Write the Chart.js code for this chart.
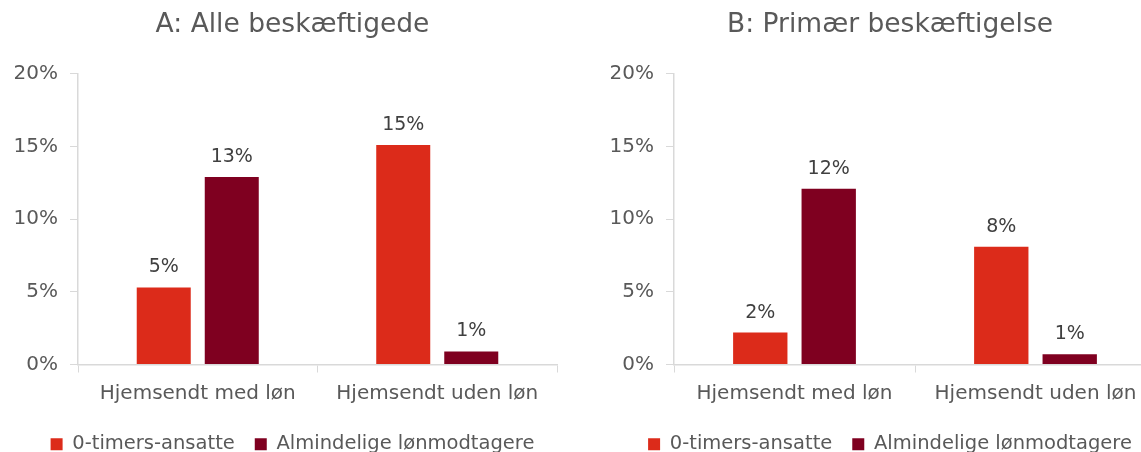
<!DOCTYPE html>
<html>
<head>
<meta charset="utf-8">
<script src="https://cdn.jsdelivr.net/npm/chart.js@4/dist/chart.umd.min.js"></script>
<style>
  html, body { margin: 0; padding: 0; background: #fff; overflow: hidden; }
  body { width: 1141px; height: 452px; position: relative; }
  .panel { position: absolute; top: 0; }
  #panel-a { left: 0; }
  #panel-b { left: 590px; }
</style>
</head>
<body>
<div class="panel" id="panel-a"><canvas id="chart-a" width="585" height="464"></canvas></div>
<div class="panel" id="panel-b"><canvas id="chart-b" width="600" height="464"></canvas></div>
<script>
(function(){

  const categories = ['Hjemsendt med løn', 'Hjemsendt uden løn'];
  const seriesNames = ['0-timers-ansatte', 'Almindelige lønmodtagere'];
  const yTicks = [0, 5, 10, 15, 20];

  // A: Alle beskæftigede
  const allZeroHours = [5.3, 15.1];
  const allRegular = [12.9, 0.9];
  // B: Primær beskæftigelse
  const primaryZeroHours = [2.2, 8.1];
  const primaryRegular = [12.1, 0.7];

  const RED = '#dc2b1a';
  const DARK = '#7f0020';
  const TEXT = '#595959';
  const AXIS = '#d9d9d9';
  const FONT = "'DejaVu Sans', sans-serif";

  // draws rounded percentage above every bar
  const barLabels = {
    id: 'barLabels',
    afterDatasetsDraw(chart) {
      const ctx = chart.ctx;
      ctx.save();
      ctx.font = `19px ${FONT}`;
      ctx.fillStyle = '#404040';
      ctx.textAlign = 'center';
      ctx.textBaseline = 'alphabetic';
      chart.data.datasets.forEach((ds, i) => {
        chart.getDatasetMeta(i).data.forEach((bar, j) => {
          ctx.fillText(Math.round(ds.data[j]) + '%', bar.x, bar.y - 15);
        });
      });
      ctx.restore();
    }
  };

  function makeChart(canvasId, title, zeroHours, regular, leftWidth, rightWidth) {
    const ctx = document.querySelector(canvasId).getContext('2d');
    return new Chart(ctx, {
      type: 'bar',
      data: {
        labels: categories,
        datasets: [
          { label: seriesNames[0], data: zeroHours, backgroundColor: RED },
          { label: seriesNames[1], data: regular, backgroundColor: DARK }
        ]
      },
      options: {
        responsive: false,
        animation: false,
        events: [],
        datasets: {
          bar: { barPercentage: 0.794, categoryPercentage: 0.568 }
        },
        scales: {
          x: {
            grid: { display: true, offset: true, drawOnChartArea: false, color: AXIS, tickLength: 8 },
            border: { color: AXIS, width: 1.5 },
            ticks: { color: TEXT, font: { family: FONT, size: 20 }, padding: 9 }
          },
          y: {
            min: 0,
            max: 20,
            afterFit: (scale) => { scale.width = leftWidth; },
            afterBuildTicks: (scale) => { scale.ticks = yTicks.map(v => ({ value: v })); },
            grid: { display: true, drawOnChartArea: false, color: AXIS, tickLength: 8 },
            border: { color: AXIS, width: 1.5 },
            ticks: { color: TEXT, font: { family: FONT, size: 20 }, padding: 12, callback: v => v + '%' }
          },
          // empty right axis, only to leave room on the right side
          yRight: {
            position: 'right',
            grid: { display: false },
            border: { display: false },
            ticks: { display: false },
            afterFit: (scale) => { scale.width = rightWidth; }
          }
        },
        plugins: {
          title: {
            display: true,
            text: title,
            color: TEXT,
            font: { family: FONT, size: 26.5, weight: 'normal' },
            padding: { top: 9, bottom: 33 }
          },
          legend: {
            position: 'bottom',
            labels: {
              color: TEXT,
              font: { family: FONT, size: 19.5 },
              boxWidth: 12,
              boxHeight: 12,
              padding: 20
            }
          },
          tooltip: { enabled: false }
        }
      },
      plugins: [barLabels]
    });
  }

  document.addEventListener('DOMContentLoaded', () => {
    makeChart('#chart-a', 'A: Alle beskæftigede', allZeroHours, allRegular, 78, 28);
    makeChart('#chart-b', 'B: Primær beskæftigelse', primaryZeroHours, primaryRegular, 84, 34);
  });
})();
</script>
</body>
</html>
